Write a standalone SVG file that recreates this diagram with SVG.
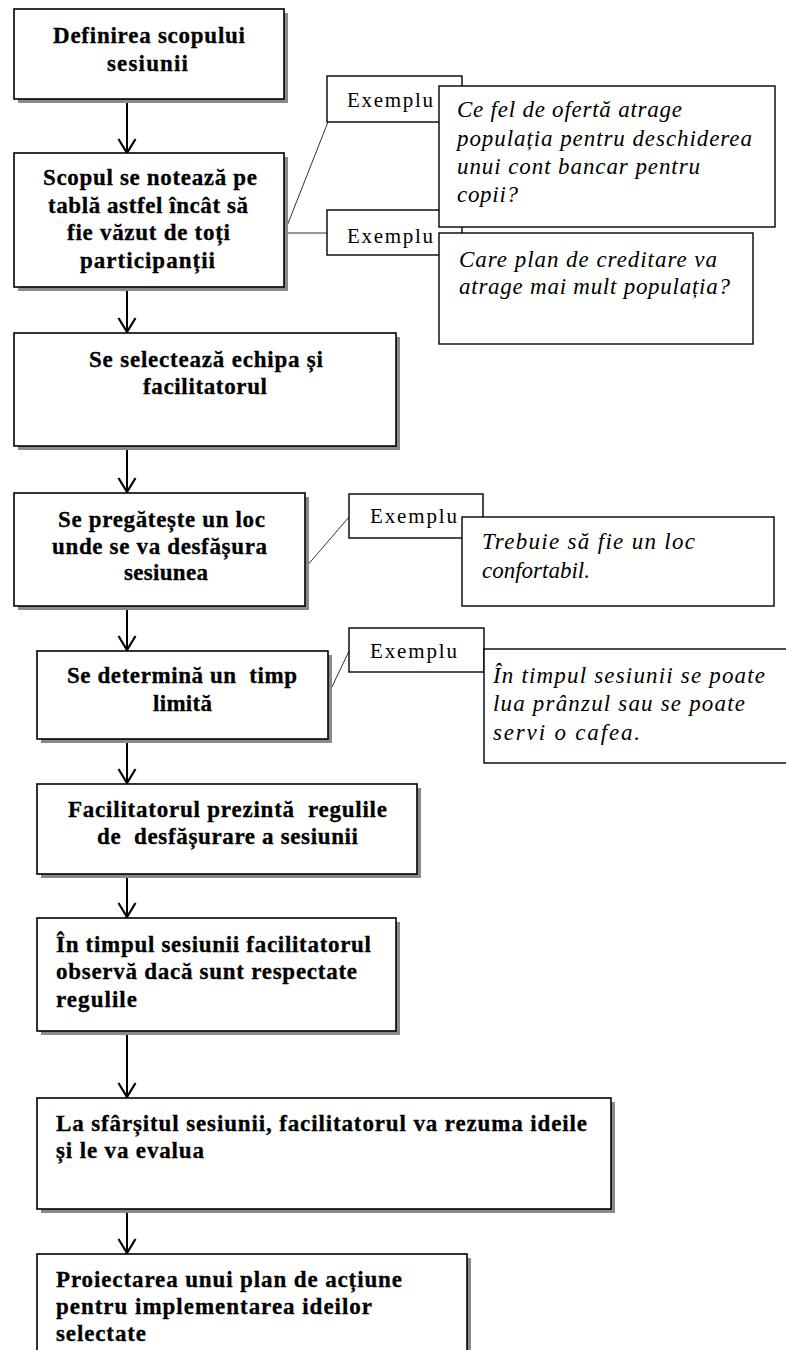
<svg xmlns="http://www.w3.org/2000/svg" width="786" height="1350" viewBox="0 0 786 1350">
<style>
.box{fill:#fff;stroke:#000;stroke-width:1.6}
.sh{fill:#8a8a8a}
.ex{fill:#fff;stroke:#000;stroke-width:1.4}
.b{font-family:"Liberation Serif",serif;font-weight:bold;font-size:23px;fill:#000;stroke:#000;stroke-width:0.3}
.e{font-family:"Liberation Serif",serif;font-size:21px;fill:#000}
.i{font-family:"Liberation Serif",serif;font-style:italic;font-size:23px;fill:#000}
.arr{stroke:#000;stroke-width:2;fill:none}
.thin{stroke:#333;stroke-width:1;fill:none}
</style>
<defs>
<marker id="ah" viewBox="0 0 18 20" refX="16" refY="10" markerWidth="18" markerHeight="20" markerUnits="userSpaceOnUse" orient="auto">
<path d="M2,1.5 L16,10 L2,18.5" fill="none" stroke="#000" stroke-width="2.2"/>
</marker>
</defs>
<rect width="786" height="1350" fill="#fff"/>

<g id="connectors">
<line class="arr" x1="127" y1="99" x2="127" y2="153" marker-end="url(#ah)"/>
<line class="arr" x1="127" y1="287" x2="127" y2="332" marker-end="url(#ah)"/>
<line class="arr" x1="127" y1="446" x2="127" y2="492" marker-end="url(#ah)"/>
<line class="arr" x1="127" y1="606" x2="127" y2="650" marker-end="url(#ah)"/>
<line class="arr" x1="127" y1="739" x2="127" y2="783" marker-end="url(#ah)"/>
<line class="arr" x1="127" y1="874" x2="127" y2="917" marker-end="url(#ah)"/>
<line class="arr" x1="127" y1="1031" x2="127" y2="1097" marker-end="url(#ah)"/>
<line class="arr" x1="127" y1="1209" x2="127" y2="1253" marker-end="url(#ah)"/>
<line class="thin" x1="285" y1="231" x2="328" y2="122"/>
<line class="thin" x1="285" y1="233" x2="327" y2="233"/>
<line class="thin" x1="306" y1="567" x2="349" y2="517"/>
<line class="thin" x1="329" y1="693" x2="350" y2="649"/>
</g>

<g id="n1">
<rect class="sh" x="18" y="13" width="270" height="90"/>
<rect class="box" x="14" y="9" width="270" height="90"/>
<text class="b" x="53" y="43" textLength="192" lengthAdjust="spacing">Definirea scopului</text>
<text class="b" x="107" y="71" textLength="81" lengthAdjust="spacing">sesiunii</text>
</g>

<g id="n2">
<rect class="sh" x="18" y="157" width="270" height="134"/>
<rect class="box" x="14" y="153" width="270" height="134"/>
<text class="b" x="43" y="185" textLength="214" lengthAdjust="spacing">Scopul se notează pe</text>
<text class="b" x="48" y="213" textLength="200" lengthAdjust="spacing">tablă astfel încât să</text>
<text class="b" x="67" y="240" textLength="163" lengthAdjust="spacing">fie văzut de toți</text>
<text class="b" x="80" y="268" textLength="135" lengthAdjust="spacing">participanții</text>
</g>

<g id="n3">
<rect class="sh" x="18" y="337" width="382" height="113"/>
<rect class="box" x="14" y="333" width="382" height="113"/>
<text class="b" x="89" y="367" textLength="234" lengthAdjust="spacing">Se selectează echipa și</text>
<text class="b" x="143" y="394" textLength="124" lengthAdjust="spacing">facilitatorul</text>
</g>

<g id="n4">
<rect class="sh" x="18" y="497" width="291" height="113"/>
<rect class="box" x="14" y="493" width="291" height="113"/>
<text class="b" x="58" y="527" textLength="207" lengthAdjust="spacing">Se pregătește un loc</text>
<text class="b" x="52" y="554" textLength="215" lengthAdjust="spacing">unde se va desfășura</text>
<text class="b" x="124" y="580" textLength="84" lengthAdjust="spacing">sesiunea</text>
</g>

<g id="n5">
<rect class="sh" x="41" y="655" width="291" height="88"/>
<rect class="box" x="37" y="651" width="291" height="88"/>
<text class="b" x="67" y="683" textLength="230" lengthAdjust="spacing" xml:space="preserve">Se determină un  timp</text>
<text class="b" x="153" y="711" textLength="59" lengthAdjust="spacing">limită</text>
</g>

<g id="n6">
<rect class="sh" x="41" y="788" width="380" height="90"/>
<rect class="box" x="37" y="784" width="380" height="90"/>
<text class="b" x="68" y="817" textLength="319" lengthAdjust="spacing" xml:space="preserve">Facilitatorul prezintă  regulile</text>
<text class="b" x="97" y="844" textLength="261" lengthAdjust="spacing" xml:space="preserve">de  desfășurare a sesiunii</text>
</g>

<g id="n7">
<rect class="sh" x="41" y="922" width="359" height="113"/>
<rect class="box" x="37" y="918" width="359" height="113"/>
<text class="b" x="56" y="952" textLength="315" lengthAdjust="spacing">În timpul sesiunii facilitatorul</text>
<text class="b" x="56" y="979" textLength="301" lengthAdjust="spacing">observă dacă sunt respectate</text>
<text class="b" x="56" y="1007" textLength="81" lengthAdjust="spacing">regulile</text>
</g>

<g id="n8">
<rect class="sh" x="41" y="1102" width="574" height="111"/>
<rect class="box" x="37" y="1098" width="574" height="111"/>
<text class="b" x="56" y="1131" textLength="531" lengthAdjust="spacing">La sfârșitul sesiunii, facilitatorul va rezuma ideile</text>
<text class="b" x="56" y="1158" textLength="148" lengthAdjust="spacing">și le va evalua</text>
</g>

<g id="n9">
<rect class="sh" x="41" y="1258" width="430" height="110"/>
<rect class="box" x="37" y="1254" width="430" height="110"/>
<text class="b" x="56" y="1287" textLength="346" lengthAdjust="spacing">Proiectarea unui plan de acțiune</text>
<text class="b" x="56" y="1314" textLength="316" lengthAdjust="spacing">pentru implementarea ideilor</text>
<text class="b" x="56" y="1341" textLength="90" lengthAdjust="spacing">selectate</text>
</g>

<g id="exemplu1">
<rect class="ex" x="327" y="76" width="135" height="46"/>
<text class="e" x="347" y="107" textLength="86" lengthAdjust="spacing">Exemplu</text>
</g>
<g id="exemplu2">
<rect class="ex" x="327" y="210" width="135" height="45"/>
<text class="e" x="347" y="243" textLength="86" lengthAdjust="spacing">Exemplu</text>
</g>
<g id="example1">
<rect class="ex" x="439" y="86" width="336" height="141"/>
<text class="i" x="457" y="117" textLength="225" lengthAdjust="spacing">Ce fel de ofertă atrage</text>
<text class="i" x="457" y="146" textLength="295" lengthAdjust="spacing">populația pentru deschiderea</text>
<text class="i" x="457" y="174" textLength="243" lengthAdjust="spacing">unui cont bancar pentru</text>
<text class="i" x="457" y="202" textLength="61" lengthAdjust="spacing">copii?</text>
</g>
<g id="example2">
<rect class="ex" x="439" y="233" width="314" height="111"/>
<text class="i" x="459" y="267" textLength="258" lengthAdjust="spacing">Care plan de creditare va</text>
<text class="i" x="459" y="294" textLength="271" lengthAdjust="spacing">atrage mai mult populația?</text>
</g>

<g id="exemplu3">
<rect class="ex" x="349" y="494" width="134" height="44"/>
<text class="e" x="370" y="523" textLength="87" lengthAdjust="spacing">Exemplu</text>
</g>
<g id="example3">
<rect class="ex" x="462" y="517" width="312" height="89"/>
<text class="i" x="482" y="549" textLength="213" lengthAdjust="spacing">Trebuie să fie un loc</text>
<text class="i" x="482" y="578">confortabil.</text>
</g>

<g id="exemplu4">
<rect class="ex" x="349" y="628" width="135" height="44"/>
<text class="e" x="370" y="658" textLength="87" lengthAdjust="spacing">Exemplu</text>
</g>
<g id="example4">
<rect class="ex" x="484" y="649" width="320" height="114"/>
<text class="i" x="493" y="683" textLength="272" lengthAdjust="spacing">În timpul sesiunii se poate</text>
<text class="i" x="493" y="711" textLength="252" lengthAdjust="spacing">lua prânzul sau se poate</text>
<text class="i" x="493" y="740" textLength="147" lengthAdjust="spacing">servi o cafea.</text>
</g>
</svg>
